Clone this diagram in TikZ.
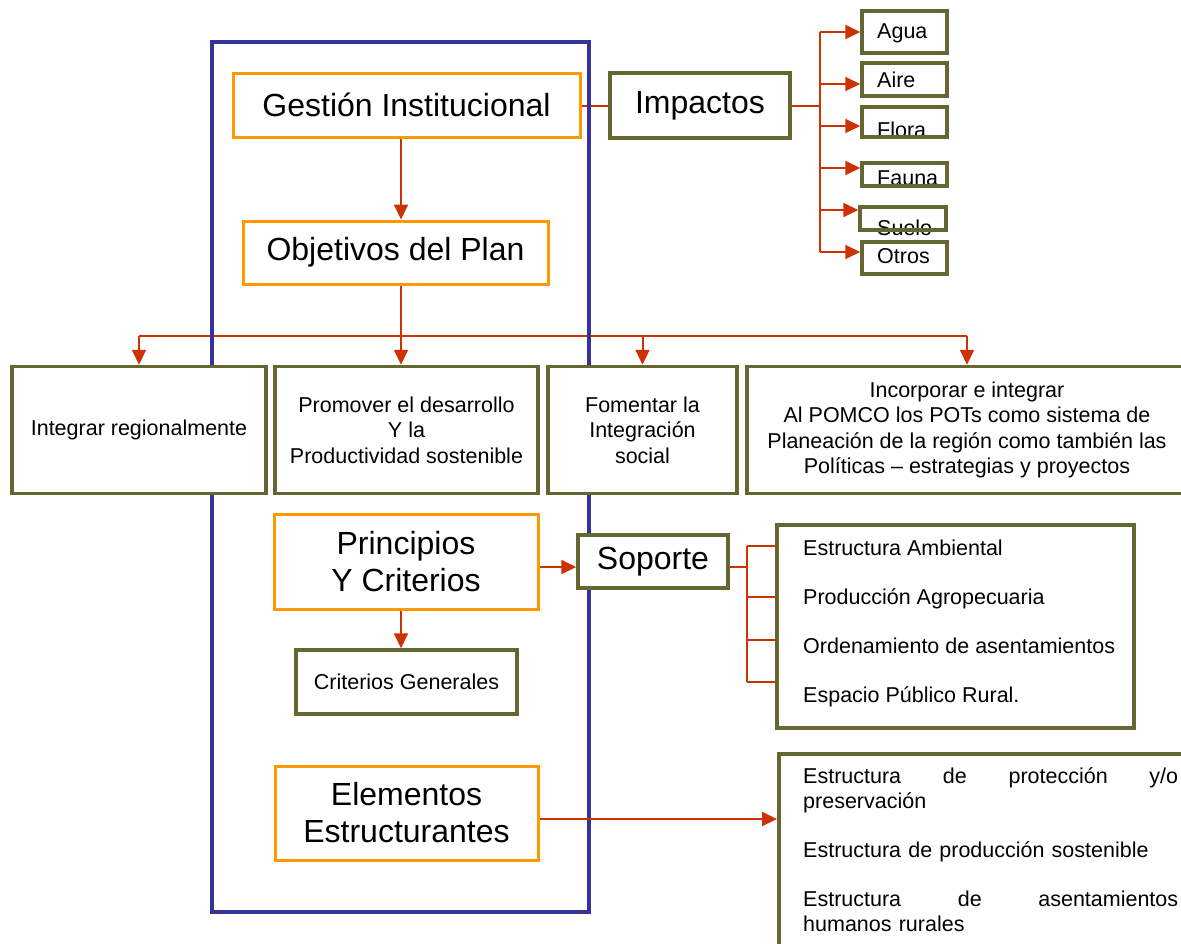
\documentclass[tikz,border=0pt]{standalone}
\usepackage{fontspec}
\setmainfont{Liberation Sans}
\usetikzlibrary{arrows.meta,backgrounds}
\definecolor{plannavy}{RGB}{51,51,153}
\definecolor{planorange}{RGB}{255,153,0}
\definecolor{planolive}{RGB}{102,102,51}
\definecolor{planred}{RGB}{204,51,0}
\newcommand{\bigtxt}{\fontsize{32}{37}\selectfont}
\newcommand{\smalltxt}{\fontsize{21.5}{25.5}\selectfont}

\begin{document}
\begin{tikzpicture}[x=1pt, y=-1pt,
  obox/.style={draw=planorange, line width=3pt, fill=white, inner sep=0pt, align=center, font=\bigtxt},
  gbox/.style={draw=planolive, line width=3.5pt, fill=white, inner sep=0pt, align=center, font=\smalltxt},
  tag/.style={draw=planolive, line width=3.5pt, inner sep=0pt},
  tagtext/.style={anchor=base west, inner sep=0pt, font=\smalltxt},
  conn/.style={draw=planred, line width=2pt},
  arr/.style={conn, -{Triangle[length=15pt,width=14pt]}}]
\useasboundingbox (0,0) rectangle (1181,943);

\coordinate (spine) at (401,0);
\coordinate (fan) at (401,336);
\coordinate (sx) at (747,567);
\coordinate (s1) at (747,546);
\coordinate (s2) at (747,597);
\coordinate (s3) at (747,640);
\coordinate (s4) at (747,682);
\coordinate (ey) at (0,819);
\coordinate (ta) at (820,32);
\coordinate (tb) at (820,84);
\coordinate (tc) at (820,126);
\coordinate (td) at (820,168);
\coordinate (te) at (820,210);
\coordinate (tf) at (820,252);

\node[obox, minimum width=347pt, minimum height=64pt] (gest) at (406.5,105) {Gestión Institucional};
\node[gbox, font=\bigtxt, minimum width=180pt, minimum height=65pt] (imp) at (700,105.5) {Impactos};
\node[obox, minimum width=305pt, minimum height=63pt] (obj) at (395.5,252.5) {Objetivos del Plan};

\node[gbox, minimum width=254pt, minimum height=127pt] (integ) at (139,430) {Integrar regionalmente};
\node[gbox, minimum width=263pt, minimum height=127pt] (prom) at (406.5,430) {Promover el desarrollo\\Y la\\Productividad sostenible};
\node[gbox, minimum width=189pt, minimum height=127pt] (fom) at (642.5,430) {Fomentar la\\Integración\\social};
\node[gbox, minimum width=440pt, minimum height=127pt] (incorp) at (967,430) {Incorporar e integrar\\Al POMCO los POTs como sistema de\\Planeación de la región como también las\\Políticas – estrategias y proyectos};

\node[obox, minimum width=264pt, minimum height=95pt] (princ) at (406,561.5) {Principios\\Y Criterios};
\node[gbox, font=\bigtxt, minimum width=150pt, minimum height=53pt] (sop) at (653,561.5) {Soporte};
\node[gbox, minimum width=221pt, minimum height=64pt] (crit) at (406.5,682) {Criterios Generales};
\node[obox, minimum width=263pt, minimum height=94pt] (elem) at (406.5,813) {Elementos\\Estructurantes};

\node[gbox, minimum width=357pt, minimum height=203pt] (sopl) at (955.5,626.5) {};
\node[anchor=north west, inner sep=0pt, align=left, font=\fontsize{21.5}{49}\selectfont] (sopt) at (803,540) {Estructura Ambiental\\Producción Agropecuaria\\Ordenamiento de asentamientos\\Espacio Público Rural.};

\node[tag, minimum width=450pt, minimum height=230pt, anchor=north west] (estr) at (777,752) {};
\node[anchor=north west, inner sep=0pt, text width=375pt, align=left, font=\fontsize{21.5}{25}\selectfont] (estrt) at (803,767) {Estructura\hfill de\hfill protección\hfill y/o\\preservación\\[24pt]Estructura de producción sostenible\\[24pt]Estructura\hfill de\hfill asentamientos\\humanos rurales};

\node[tagtext] (aguat) at (877,38) {Agua};
\node[tagtext] (airet) at (877,87) {Aire};
\node[tagtext] (florat) at (877,137) {Flora};
\node[tagtext] (faunat) at (877,185) {Fauna};
\node[tagtext] (suelot) at (877,235) {Suelo};
\node[tagtext] (otrost) at (877,263) {Otros};
\node[tag, minimum width=85pt, minimum height=42pt] (agua) at (904.5,32) {};
\node[tag, minimum width=85pt, minimum height=33pt] (aire) at (904.5,79.5) {};
\node[tag, minimum width=85pt, minimum height=30pt] (flora) at (904.5,122) {};
\node[tag, minimum width=85pt, minimum height=23pt] (fauna) at (904.5,174.5) {};
\node[tag, minimum width=86pt, minimum height=23pt] (suelo) at (903,218.5) {};
\node[tag, minimum width=85pt, minimum height=32pt] (otros) at (904.5,258) {};

\begin{pgfonlayer}{background}
\draw[conn] (gest.east |- imp.west) -- (imp.west);
\draw[conn] (obj.south -| fan) -- (fan);
\draw[conn] (integ.north |- fan) -- (incorp.north |- fan);
\draw[arr] (integ.north |- fan) -- (integ.north);
\draw[arr] (fan) -- (prom.north -| fan);
\draw[arr] (fom.north |- fan) -- (fom.north);
\draw[arr] (incorp.north |- fan) -- (incorp.north);
\draw[plannavy, line width=4.5pt] (212,42) rectangle (589,912);
\end{pgfonlayer}

\draw[arr] (gest.south -| spine) -- (obj.north -| spine);
\draw[arr] (princ.east |- sx) -- (sop.west |- sx);
\draw[conn] (sop.east |- sx) -- (sx);
\draw[conn] (s1) -- (s4);
\draw[conn] (s1) -- (s1 -| sopl.west);
\draw[conn] (s2) -- (s2 -| sopl.west);
\draw[conn] (s3) -- (s3 -| sopl.west);
\draw[conn] (s4) -- (s4 -| sopl.west);
\draw[arr] (princ.south -| spine) -- (crit.north -| spine);
\draw[arr] (elem.east |- ey) -- (estr.west |- ey);

\draw[conn] (imp.east) -- (imp.east -| ta);
\draw[conn] (ta) -- (tf);
\draw[arr] (ta) -- (ta -| agua.west);
\draw[arr] (tb) -- (tb -| aire.west);
\draw[arr] (tc) -- (tc -| flora.west);
\draw[arr] (td) -- (td -| fauna.west);
\draw[arr] (te) -- (te -| suelo.west);
\draw[arr] (tf) -- (tf -| otros.west);
\end{tikzpicture}
\end{document}
